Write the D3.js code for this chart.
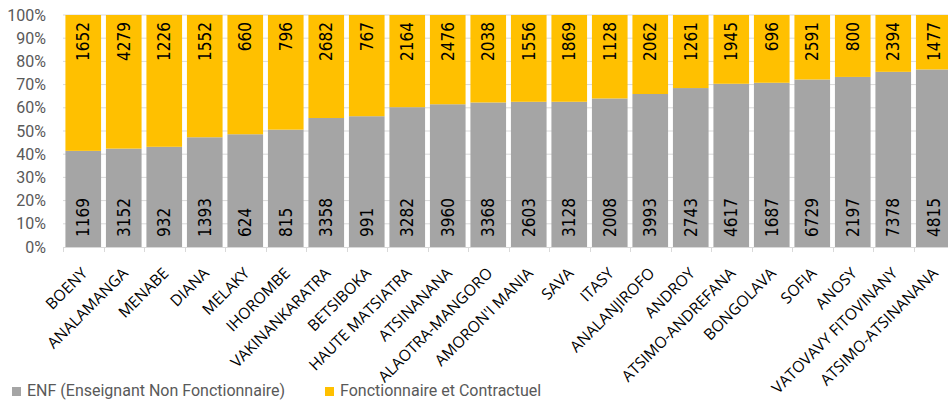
<!DOCTYPE html>
<html>
<head>
<meta charset="utf-8">
<script src="https://cdn.jsdelivr.net/npm/d3@7/dist/d3.min.js"></script>
<style>
  html, body { margin: 0; padding: 0; background: #fff; }
  svg { display: block; }
</style>
</head>
<body>
<div id="chart"></div>
<script>
(function () {
  // régions, triées par part ENF croissante
  const regions = [
    'BOENY', 'ANALAMANGA', 'MENABE', 'DIANA', 'MELAKY', 'IHOROMBE', 'VAKINANKARATRA',
    'BETSIBOKA', 'HAUTE MATSIATRA', 'ATSINANANA', 'ALAOTRA-MANGORO', "AMORON'I MANIA",
    'SAVA', 'ITASY', 'ANALANJIROFO', 'ANDROY', 'ATSIMO-ANDREFANA', 'BONGOLAVA',
    'SOFIA', 'ANOSY', 'VATOVAVY FITOVINANY', 'ATSIMO-ATSINANANA'
  ];
  const enf = [1169, 3152, 932, 1393, 624, 815, 3358, 991, 3282, 3960, 3368, 2603,
    3128, 2008, 3993, 2743, 4617, 1687, 6729, 2197, 7378, 4815];
  const fonct = [1652, 4279, 1226, 1552, 660, 796, 2682, 767, 2164, 2476, 2038, 1556,
    1869, 1128, 2062, 1261, 1945, 696, 2591, 800, 2394, 1477];
  const seriesNames = ['ENF (Enseignant Non Fonctionnaire)', 'Fonctionnaire et Contractuel'];
  const yTicks = [0, 0.1, 0.2, 0.3, 0.4, 0.5, 0.6, 0.7, 0.8, 0.9, 1];

  const COLORS = ['#A5A5A5', '#FFC000'];
  const width = 948, height = 400;
  const left = 63, right = 954, top = 15, bottom = 247;

  const rows = regions.map((r, i) => ({ region: r, enf: enf[i], fonct: fonct[i] }));
  const stack = d3.stack().keys(['enf', 'fonct']).offset(d3.stackOffsetExpand);
  const layers = stack(rows);

  const svg = d3.select('#chart').append('svg')
    .attr('width', width).attr('height', height)
    .style('font-family', 'Roboto, sans-serif');

  const x = d3.scaleBand().domain(regions).range([left, right])
    .paddingInner(0.12).paddingOuter(0.06);
  const y = d3.scaleLinear().domain([0, 1]).range([bottom, top]);

  // grille
  svg.append('g').selectAll('line')
    .data(yTicks.slice(1))
    .join('line')
    .attr('x1', left).attr('x2', right)
    .attr('y1', d => y(d)).attr('y2', d => y(d))
    .attr('stroke', '#d9d9d9').attr('stroke-width', 1);

  // axe Y
  const yAxis = svg.append('g')
    .attr('transform', `translate(${left},0)`)
    .call(d3.axisLeft(y).tickValues(yTicks).tickFormat(d3.format('.0%')).tickSize(0).tickPadding(17));
  yAxis.select('.domain').remove();
  yAxis.selectAll('text')
    .attr('fill', '#595959').style('font-size', '16px').style('font-family', 'Roboto, sans-serif');

  // barres
  svg.append('g').selectAll('g')
    .data(layers)
    .join('g')
    .attr('fill', (d, i) => COLORS[i])
    .selectAll('rect')
    .data(d => d)
    .join('rect')
    .attr('x', d => x(d.data.region))
    .attr('width', x.bandwidth())
    .attr('y', d => y(d[1]))
    .attr('height', d => y(d[0]) - y(d[1]));

  // axe X
  const step = x.step();
  svg.append('line')
    .attr('x1', left).attr('x2', right).attr('y1', bottom + 0.5).attr('y2', bottom + 0.5)
    .attr('stroke', '#d9d9d9');
  svg.append('g').selectAll('line')
    .data(regions)
    .join('line')
    .attr('x1', d => Math.round(x(d) - (step - x.bandwidth()) / 2) + 0.5)
    .attr('x2', d => Math.round(x(d) - (step - x.bandwidth()) / 2) + 0.5)
    .attr('y1', bottom).attr('y2', bottom + 5)
    .attr('stroke', '#d9d9d9');

  svg.append('g').selectAll('text')
    .data(regions)
    .join('text')
    .attr('transform', d => `translate(${x(d) + x.bandwidth() / 2 - 3},${bottom + 19}) rotate(-45)`)
    .attr('text-anchor', 'end')
    .attr('dy', '0.75em')
    .attr('fill', '#000')
    .style('font-family', '"Open Sans", sans-serif')
    .style('font-size', '15.6px')
    .text(d => d);

  // étiquettes de valeurs
  const labelFont = '"Liberation Sans Narrow", "DejaVu Sans Condensed", sans-serif';
  const cx = d => x(d.region) + x.bandwidth() / 2;
  svg.append('g').selectAll('text')
    .data(rows)
    .join('text')
    .attr('transform', d => `translate(${cx(d)},${bottom - 10}) rotate(-90)`)
    .attr('dy', '0.35em')
    .attr('text-anchor', 'start')
    .style('font-family', labelFont).style('font-size', '17px')
    .attr('fill', '#000')
    .text(d => d.enf);
  svg.append('g').selectAll('text')
    .data(rows)
    .join('text')
    .attr('transform', d => `translate(${cx(d)},${top + 7}) rotate(-90)`)
    .attr('dy', '0.35em')
    .attr('text-anchor', 'end')
    .style('font-family', labelFont).style('font-size', '17px')
    .attr('fill', '#000')
    .text(d => d.fonct);

  // légende
  const legendX = [12, 325];
  const legend = svg.append('g').selectAll('g')
    .data(seriesNames)
    .join('g')
    .attr('transform', (d, i) => `translate(${legendX[i]},387)`);
  legend.append('rect')
    .attr('width', 9).attr('height', 9)
    .attr('fill', (d, i) => COLORS[i]);
  legend.append('text')
    .attr('x', 15).attr('y', 9)
    .attr('fill', '#595959')
    .style('font-size', '16px')
    .text(d => d);
})();
</script>
</body>
</html>
